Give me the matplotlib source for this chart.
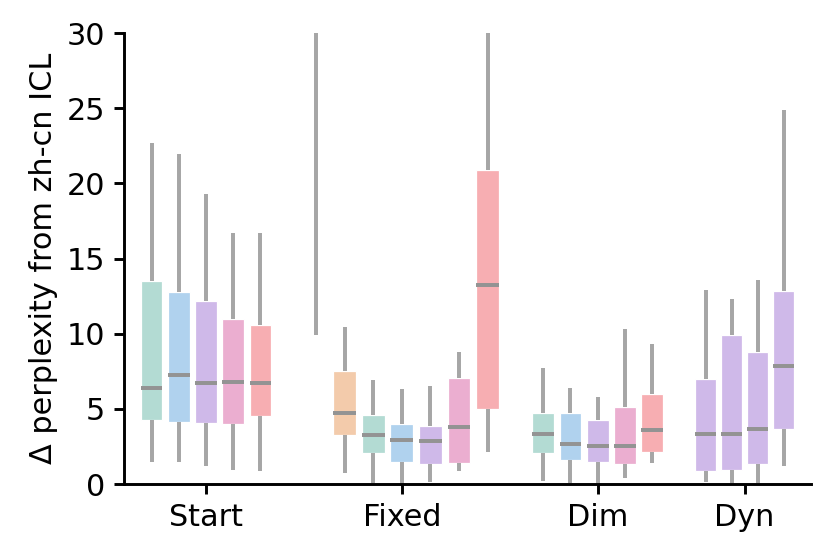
import matplotlib
matplotlib.use("Agg")
import matplotlib.pyplot as plt

# ---- data ----
groups = ["Start", "Fixed", "Dim", "Dyn"]
group_pos = [0.0, 1.0, 2.0, 2.75]

start_colors = ["#b3dbd3", "#b0d2ee", "#cfb9e9", "#ebaed0", "#f7aeb2"]
start_low = [1.48, 1.48, 1.22, 0.95, 0.89]
start_q1 = [4.26, 4.15, 4.04, 4.01, 4.52]
start_med = [6.39, 7.27, 6.70, 6.76, 6.70]
start_q3 = [13.48, 12.77, 12.20, 10.95, 10.55]
start_high = [22.7, 21.93, 19.31, 16.68, 16.68]

fixed_colors = ["#f5e6a8", "#f3cbab", "#b3dbd3", "#b0d2ee", "#cfb9e9", "#ebaed0", "#f7aeb2"]
fixed_low = [9.91, 0.71, 0.04, 0.02, 0.11, 0.89, 2.15]
fixed_q1 = [32.0, 3.26, 2.09, 1.48, 1.31, 1.38, 5.01]
fixed_med = [36.0, 4.75, 3.24, 2.93, 2.88, 3.79, 13.26]
fixed_q3 = [40.0, 7.52, 4.57, 3.97, 3.86, 7.07, 20.91]
fixed_high = [45.0, 10.47, 6.92, 6.30, 6.54, 8.76, 32.0]

dim_colors = ["#b3dbd3", "#b0d2ee", "#cfb9e9", "#ebaed0", "#f7aeb2"]
dim_low = [0.18, 0.09, 0.10, 0.38, 1.38]
dim_q1 = [2.06, 1.57, 1.48, 1.31, 2.15]
dim_med = [3.33, 2.66, 2.53, 2.55, 3.61]
dim_q3 = [4.75, 4.72, 4.23, 5.14, 5.97]
dim_high = [7.69, 6.41, 5.81, 10.29, 9.29]

dyn_colors = ["#cfb9e9", "#cfb9e9", "#cfb9e9", "#cfb9e9"]
dyn_low = [0.15, 0.10, 0.10, 1.18]
dyn_q1 = [0.86, 0.95, 1.33, 3.64]
dyn_med = [3.33, 3.33, 3.64, 7.83]
dyn_q3 = [7.01, 9.89, 8.78, 12.82]
dyn_high = [12.90, 12.28, 13.57, 24.88]

ylabel = "Δ perplexity from zh-cn ICL"

# ---- layout ----
spacing = [0.139, 0.146, 0.139, 0.133]
wfrac = 0.8
FS = 14.5

fig = plt.figure(figsize=(5.54, 3.70), dpi=150)
ax = fig.add_axes([0.1492, 0.1279, 0.9756 - 0.1492, 0.9405 - 0.1279])

all_groups = [
    (start_colors, start_low, start_q1, start_med, start_q3, start_high),
    (fixed_colors, fixed_low, fixed_q1, fixed_med, fixed_q3, fixed_high),
    (dim_colors, dim_low, dim_q1, dim_med, dim_q3, dim_high),
    (dyn_colors, dyn_low, dyn_q1, dyn_med, dyn_q3, dyn_high),
]

for gi, (cols, lo, q1, med, q3, hi) in enumerate(all_groups):
    n = len(cols)
    sp = spacing[gi]
    positions = [group_pos[gi] + (i - (n - 1) / 2) * sp for i in range(n)]
    stats = []
    for i in range(n):
        stats.append(dict(whislo=lo[i], q1=q1[i], med=med[i], q3=q3[i],
                          whishi=hi[i], fliers=[]))
    bp = ax.bxp(stats, positions=positions, widths=sp * wfrac,
                patch_artist=True, showcaps=False, showfliers=False,
                whiskerprops=dict(color="#a6a6a6", lw=1.9, solid_capstyle="butt"),
                medianprops=dict(color="#939393", lw=1.9, solid_capstyle="butt"),
                boxprops=dict(lw=0.6))
    for patch, c in zip(bp["boxes"], cols):
        patch.set_facecolor(c)
        patch.set_edgecolor("#ffffff")
        patch.set_alpha(1.0)

ax.set_xlim(-0.4187, 3.0876)
ax.set_ylim(0, 30)
ax.set_xticks(group_pos)
ax.set_xticklabels(groups)
ax.set_yticks([0, 5, 10, 15, 20, 25, 30])
ax.set_ylabel(ylabel, fontsize=FS)
ax.tick_params(labelsize=FS, width=1.4, length=5, pad=4)
for s in ["top", "right"]:
    ax.spines[s].set_visible(False)
for s in ["left", "bottom"]:
    ax.spines[s].set_linewidth(1.4)

fig.savefig("out.png", dpi=150)
